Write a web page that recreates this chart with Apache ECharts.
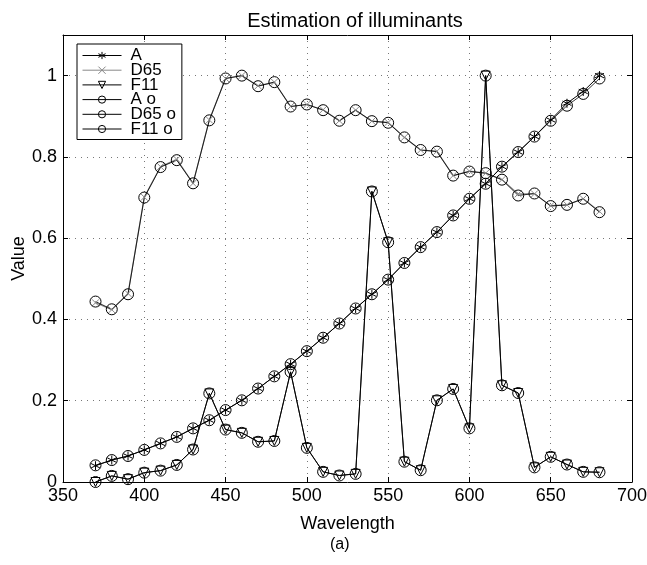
<!DOCTYPE html>
<html><head><meta charset="utf-8">
<script src="https://cdn.jsdelivr.net/npm/echarts@6/dist/echarts.min.js"></script>
<style>html,body{margin:0;padding:0;background:#fff}#c{width:647px;height:565px}</style>
</head><body><div id="c"></div>
<script>
const wavelengths = [370,380,390,400,410,420,430,440,450,460,470,480,490,500,510,520,530,540,550,560,570,580,590,600,610,620,630,640,650,660,670,680];
const illumA = [0.040,0.054,0.064,0.079,0.095,0.111,0.132,0.152,0.177,0.201,0.230,0.260,0.290,0.322,0.355,0.390,0.427,0.462,0.498,0.539,0.578,0.615,0.656,0.697,0.734,0.776,0.812,0.850,0.891,0.932,0.961,1.000];
const illumD65 = [0.441,0.424,0.464,0.701,0.776,0.794,0.735,0.891,0.993,1.000,0.975,0.984,0.924,0.929,0.916,0.889,0.915,0.888,0.885,0.848,0.817,0.814,0.754,0.765,0.760,0.744,0.709,0.709,0.680,0.682,0.697,0.666];
const illumF11 = [0.000,0.015,0.007,0.023,0.028,0.042,0.080,0.218,0.129,0.121,0.099,0.101,0.271,0.084,0.025,0.016,0.020,0.715,0.590,0.050,0.029,0.201,0.229,0.132,1.000,0.238,0.219,0.036,0.062,0.043,0.025,0.024];
const estA = [0.041,0.054,0.064,0.079,0.095,0.111,0.132,0.152,0.177,0.201,0.230,0.260,0.290,0.322,0.355,0.390,0.427,0.462,0.498,0.539,0.578,0.615,0.656,0.697,0.734,0.776,0.812,0.850,0.889,0.926,0.955,0.993];
const estD65 = [0.444,0.425,0.462,0.700,0.775,0.792,0.735,0.890,0.993,1.000,0.974,0.984,0.924,0.929,0.915,0.889,0.915,0.888,0.884,0.848,0.817,0.813,0.754,0.764,0.760,0.744,0.705,0.710,0.679,0.682,0.697,0.664];
const estF11 = [0.000,0.015,0.007,0.023,0.028,0.042,0.080,0.218,0.129,0.121,0.099,0.101,0.271,0.084,0.025,0.016,0.020,0.715,0.590,0.050,0.029,0.201,0.229,0.132,1.000,0.238,0.219,0.036,0.062,0.043,0.025,0.024];
const seriesNames = ['A','D65','F11','A o','D65 o','F11 o'];
const xTicks = [350,400,450,500,550,600,650,700];
const yTicks = [0,0.2,0.4,0.6,0.8,1];

const pair = arr => wavelengths.map((w,i)=>[w,arr[i]]);
const FONT = 'Liberation Sans';
const star = 'path://M0,-10L0,10M-8.7,-5L8.7,5M-8.7,5L8.7,-5';
const cross = 'path://M-7,-7L7,7M-7,7L7,-7';

function mk(name, arr, symbol, color, lw, extra){
  return Object.assign({
    name, type:'line', data: pair(arr), symbol, symbolSize: 8,
    lineStyle:{color, width:lw}, itemStyle:{color:'transparent', borderColor:color, borderWidth:1},
    emphasis:{disabled:true}, animation:false, z:3
  }, extra||{});
}

const chart = echarts.init(document.getElementById('c'));
chart.setOption({
  animation:false,
  backgroundColor:'#fff',
  title:{text:'Estimation of illuminants', left:350, top:6, textAlign:'center',
    textStyle:{fontFamily:FONT, fontSize:20, fontWeight:'normal', color:'#000'}},
  grid:{left:63, right:15, top:35, bottom:83, containLabel:false, outerBoundsMode:'none'},
  legend:{
    left:77, top:44, orient:'vertical', itemWidth:39, itemHeight:9, itemGap:-2.3,
    padding:[3,6,2,5], borderColor:'#000', borderWidth:1, backgroundColor:'#fff',
    lineStyle:{width:1}, itemStyle:{borderWidth:1},
    textStyle:{fontFamily:FONT, fontSize:17, lineHeight:15, color:'#000', padding:[0,0,0,4]},
    data: seriesNames
  },
  xAxis:[{
    type:'value', min:350, max:700, interval:50, position:'bottom',
    name:'Wavelength', nameLocation:'middle', nameGap:33, nameMoveOverlap:false,
    nameTextStyle:{fontFamily:FONT, fontSize:18, color:'#000'},
    axisLine:{show:true, onZero:false, lineStyle:{color:'#000', width:1}},
    axisTick:{show:true, inside:true, length:5, lineStyle:{color:'#000'}},
    axisLabel:{fontFamily:FONT, fontSize:18, color:'#000', margin:5,
      formatter: v => xTicks.includes(v) ? String(v) : ''},
    splitLine:{show:true, lineStyle:{color:'#777', type:[1,5], width:1}}
  },{
    type:'value', min:350, max:700, interval:50, position:'top',
    axisLine:{show:true, onZero:false, lineStyle:{color:'#000', width:1}},
    axisTick:{show:true, inside:true, length:5, lineStyle:{color:'#000'}},
    axisLabel:{show:false}, splitLine:{show:false}
  }],
  yAxis:[{
    type:'value', min:0, max:1.1, interval:0.2, position:'left',
    name:'Value', nameLocation:'middle', nameGap:35, nameMoveOverlap:false,
    nameTextStyle:{fontFamily:FONT, fontSize:18, color:'#000'},
    axisLine:{show:true, onZero:false, lineStyle:{color:'#000', width:1}},
    axisTick:{show:true, inside:true, length:5, lineStyle:{color:'#000'}},
    axisLabel:{fontFamily:FONT, fontSize:18, color:'#000', margin:6, showMaxLabel:false,
      formatter: v => { const t = yTicks.find(k=>Math.abs(k-v)<1e-6); return t===undefined ? '' : String(t); }},
    splitLine:{show:true, lineStyle:{color:'#777', type:[1,5], width:1}}
  },{
    type:'value', min:0, max:1.1, interval:0.2, position:'right',
    axisLine:{show:true, onZero:false, lineStyle:{color:'#000', width:1}},
    axisTick:{show:true, inside:true, length:5, lineStyle:{color:'#000'}},
    axisLabel:{show:false}, splitLine:{show:false}
  }],
  graphic:[{type:'text', left:330, top:537, style:{text:'(a)', font:'16px "Liberation Sans"', fill:'#000'}}],
  series:[
    mk('A', illumA, star, '#000', 1, {symbolSize:9}),
    mk('D65', illumD65, cross, '#888', 1.2, {symbolSize:7}),
    mk('F11', illumF11, 'triangle', '#000', 1, {symbolRotate:180, symbolSize:9}),
    mk('A o', estA, 'circle', '#000', 0.8, {symbolSize:11}),
    mk('D65 o', estD65, 'circle', '#000', 0.8, {symbolSize:11}),
    mk('F11 o', estF11, 'circle', '#000', 0.8, {symbolSize:11})
  ]
});
</script></body></html>
